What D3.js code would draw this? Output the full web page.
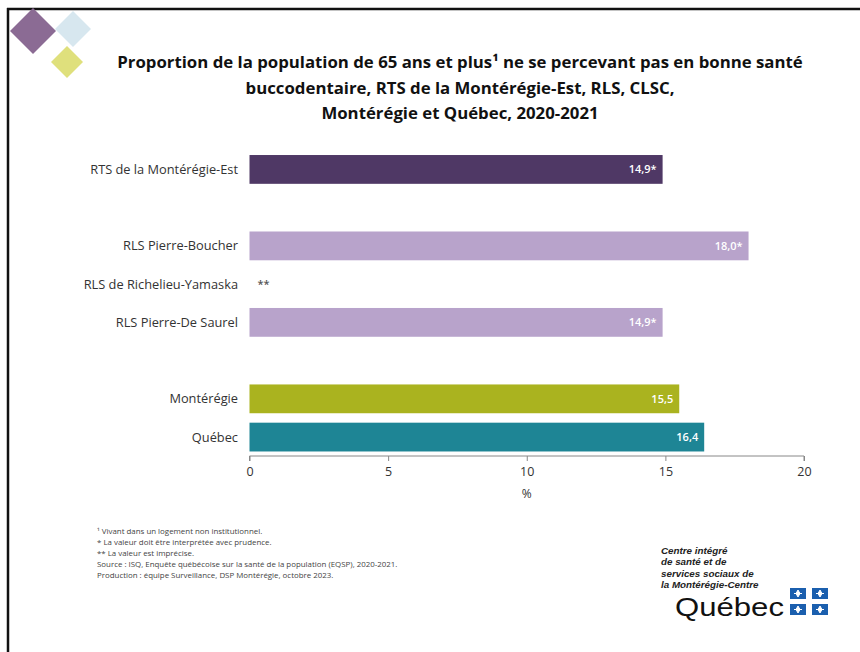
<!DOCTYPE html>
<html><head><meta charset="utf-8">
<script src="https://cdn.jsdelivr.net/npm/d3@7"></script>
<style>
body{margin:0;background:#fff;}
svg{display:block;font-family:"Open Sans",sans-serif;}
</style></head><body>
<script>
const categories = ["RTS de la Montérégie-Est", "", "RLS Pierre-Boucher", "RLS de Richelieu-Yamaska", "RLS Pierre-De Saurel", "", "Montérégie", "Québec"];
const values = [14.9, null, 18.0, null, 14.9, null, 15.5, 16.4];
const valueLabels = ["14,9*", "", "18,0*", "**", "14,9*", "", "15,5", "16,4"];
const barColors = ["#4f3865", null, "#b8a3cb", "#b8a3cb", "#b8a3cb", null, "#aab31f", "#1e8595"];
const xTicks = [0, 5, 10, 15, 20];
const titleLines = ["Proportion de la population de 65 ans et plus¹ ne se percevant pas en bonne santé", "buccodentaire, RTS de la Montérégie-Est, RLS, CLSC,", "Montérégie et Québec, 2020-2021"];
const footnotes = ["¹ Vivant dans un logement non institutionnel.", "* La valeur doit être interprétée avec prudence.", "** La valeur est imprécise.", "Source : ISQ, Enquête québécoise sur la santé de la population (EQSP), 2020-2021.", "Production : équipe Surveillance, DSP Montérégie, octobre 2023."];
const logoLines = ["Centre intégré", "de santé et de", "services sociaux de", "la Montérégie-Centre"];

const W = 860, H = 652;
const svg = d3.select("body").append("svg").attr("width", W).attr("height", H);
svg.append("rect").attr("width", W).attr("height", H).attr("fill", "#fff");

// border (top and left)
svg.append("line").attr("x1", 7).attr("x2", W).attr("y1", 9).attr("y2", 9).attr("stroke", "#111").attr("stroke-width", 2.5);
svg.append("line").attr("x1", 8).attr("x2", 8).attr("y1", 8).attr("y2", H).attr("stroke", "#111").attr("stroke-width", 2.5);

// decorative diamonds
const diamonds = [
  {cx: 73, cy: 29, r: 18, c: "#d7e7ef"},
  {cx: 33, cy: 31, r: 23, c: "#8b6b94"},
  {cx: 67, cy: 62, r: 16, c: "#dfe07c"}
];
svg.selectAll(".dia").data(diamonds).join("path")
  .attr("d", d => `M${d.cx},${d.cy - d.r}L${d.cx + d.r},${d.cy}L${d.cx},${d.cy + d.r}L${d.cx - d.r},${d.cy}Z`)
  .attr("fill", d => d.c);

// title
svg.append("text").attr("text-anchor", "middle").attr("font-weight", "bold").attr("font-size", 16.8).attr("fill", "#111")
  .selectAll("tspan").data(titleLines).join("tspan")
  .attr("x", 460).attr("y", (d, i) => 68 + i * 25.5).text(d => d);

// chart
const x = d3.scaleLinear().domain([0, 20]).range([249.5, 804]);
const y = d3.scaleBand().domain(d3.range(categories.length)).range([150.3, 456.2]).paddingInner(0.247).paddingOuter(0.1235);

const g = svg.append("g");
g.selectAll(".bar").data(values.map((v, i) => ({v, i}))).join("rect")
  .filter(d => d.v !== null)
  .attr("x", x(0)).attr("y", d => y(d.i)).attr("width", d => x(d.v) - x(0)).attr("height", y.bandwidth())
  .attr("fill", d => barColors[d.i]);

g.selectAll(".cat").data(categories).join("text")
  .attr("x", 238).attr("y", (d, i) => y(i) + y.bandwidth() / 2).attr("dy", "0.35em")
  .attr("text-anchor", "end").attr("font-size", 12.8).attr("fill", "#333").text(d => d);

g.selectAll(".val").data(values.map((v, i) => ({v, i}))).join("text")
  .filter(d => valueLabels[d.i] !== "")
  .attr("x", d => d.v !== null ? x(d.v) - 6 : x(0) + 8)
  .attr("y", d => y(d.i) + y.bandwidth() / 2).attr("dy", "0.35em")
  .attr("text-anchor", d => d.v !== null ? "end" : "start")
  .attr("font-size", 11).attr("font-weight", 600)
  .attr("fill", d => d.v !== null ? "#fff" : "#555")
  .text(d => valueLabels[d.i]);

const axis = svg.append("g").attr("transform", "translate(0,456)")
  .call(d3.axisBottom(x).tickValues(xTicks).tickSize(5).tickPadding(6).tickFormat(d3.format("d")));
axis.select(".domain").attr("stroke", "#888").attr("d", `M${x(0)},5V0H${x(20)}V5`);
axis.selectAll(".tick line").attr("stroke", "#888");
axis.selectAll(".tick text").attr("font-size", 12.5).attr("fill", "#333").attr("font-family", "Open Sans, sans-serif");
svg.append("text").attr("x", x(10)).attr("y", 498).attr("text-anchor", "middle").attr("font-size", 12).attr("fill", "#333").text("%");

// footnotes
svg.append("g").selectAll("text").data(footnotes).join("text")
  .attr("x", 97).attr("y", (d, i) => 534 + i * 11).attr("font-size", 7.9).attr("fill", "#444").text(d => d);

// logo
svg.append("g").selectAll("text").data(logoLines).join("text")
  .attr("x", 661).attr("y", (d, i) => 554 + i * 11.3).attr("font-size", 9.8).attr("font-weight", "bold").attr("font-style", "italic")
  .attr("font-family", "Liberation Sans, Arial, sans-serif")
  .attr("fill", "#222").text(d => d);
svg.append("text").attr("x", 675).attr("y", 616).attr("font-size", 26)
  .attr("textLength", 109).attr("lengthAdjust", "spacingAndGlyphs")
  .attr("fill", "#111").attr("font-family", "Liberation Sans, Arial, sans-serif").text("Québec");
const flags = [[790, 588], [812, 588], [790, 604], [812, 604]];
const fl = svg.append("g");
flags.forEach(([fx, fy]) => {
  fl.append("rect").attr("x", fx).attr("y", fy).attr("width", 16).attr("height", 11).attr("fill", "#1b5fae");
  fl.append("path").attr("d", `M${fx + 8},${fy + 2}L${fx + 10},${fy + 5.5}L${fx + 8},${fy + 9}L${fx + 6},${fy + 5.5}Z M${fx + 4},${fy + 5.5}H${fx + 12}`)
    .attr("fill", "#fff").attr("stroke", "#fff").attr("stroke-width", 1);
});
</script>
</body></html>
